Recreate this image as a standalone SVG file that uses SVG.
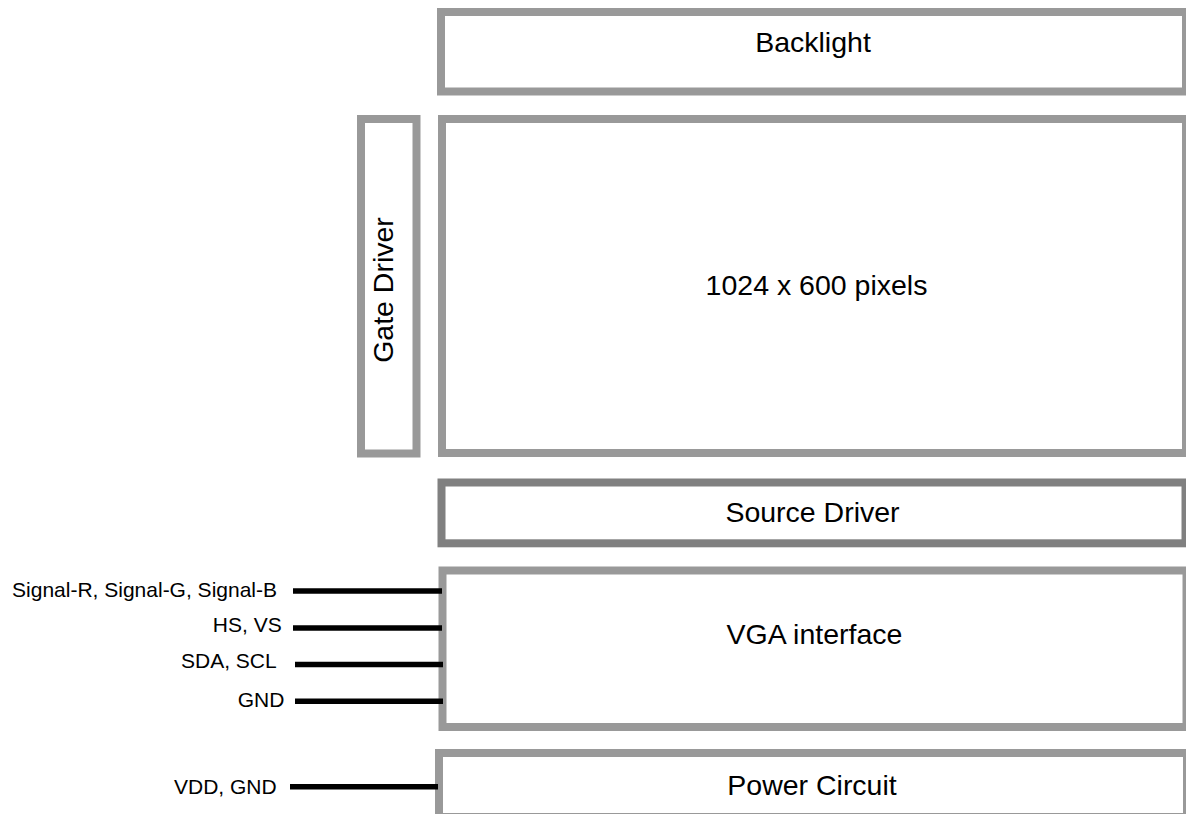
<svg xmlns="http://www.w3.org/2000/svg" width="1186" height="814" viewBox="0 0 1186 814">
<style>
.box{fill:#fff;stroke:#999;stroke-width:8}
.dark{stroke:#808080}
.lbl{font-family:"Liberation Sans",Arial,sans-serif;font-size:28.5px;fill:#000;text-anchor:middle}
.sig{font-family:"Liberation Sans",Arial,sans-serif;font-size:21px;fill:#000;text-anchor:end}
.wire{stroke:#000;stroke-width:5.5;fill:none}
</style>
<rect width="1186" height="814" fill="#fff"/>
<g id="backlight">
<rect class="box" x="441" y="12" width="745" height="79.5"/>
<text class="lbl" x="813" y="52.3">Backlight</text>
</g>
<g id="gate-driver">
<rect class="box" x="361" y="119" width="55.5" height="334.5"/>
<text class="lbl" transform="translate(393.3,290) rotate(-90)">Gate Driver</text>
</g>
<g id="panel">
<rect class="box" x="442" y="119" width="744" height="334"/>
<text class="lbl" x="816.5" y="295">1024 x 600 pixels</text>
</g>
<g id="source-driver">
<rect class="box dark" x="441.5" y="482.5" width="744" height="60.8"/>
<text class="lbl" x="812.5" y="522.3">Source Driver</text>
</g>
<g id="vga">
<rect class="box" x="442.5" y="570.5" width="744" height="156.5"/>
<text class="lbl" x="814.5" y="644">VGA interface</text>
</g>
<g id="power">
<rect class="box" x="439" y="753" width="748" height="64"/>
<text class="lbl" x="812" y="795">Power Circuit</text>
</g>
<g id="connectors">
<line class="wire" x1="293" y1="591" x2="442" y2="591"/>
<line class="wire" x1="293" y1="628" x2="442" y2="628"/>
<line class="wire" x1="295" y1="664.5" x2="443" y2="664.5"/>
<line class="wire" x1="295" y1="701.3" x2="443" y2="701.3"/>
<line class="wire" x1="290" y1="786.7" x2="438" y2="786.7"/>
</g>
<g id="labels">
<text class="sig" x="277" y="596.7">Signal-R, Signal-G, Signal-B</text>
<text class="sig" x="281.7" y="632.3">HS, VS</text>
<text class="sig" x="276.7" y="668.3">SDA, SCL</text>
<text class="sig" x="284.3" y="706.7">GND</text>
<text class="sig" x="276.7" y="794.3">VDD, GND</text>
</g>
</svg>
